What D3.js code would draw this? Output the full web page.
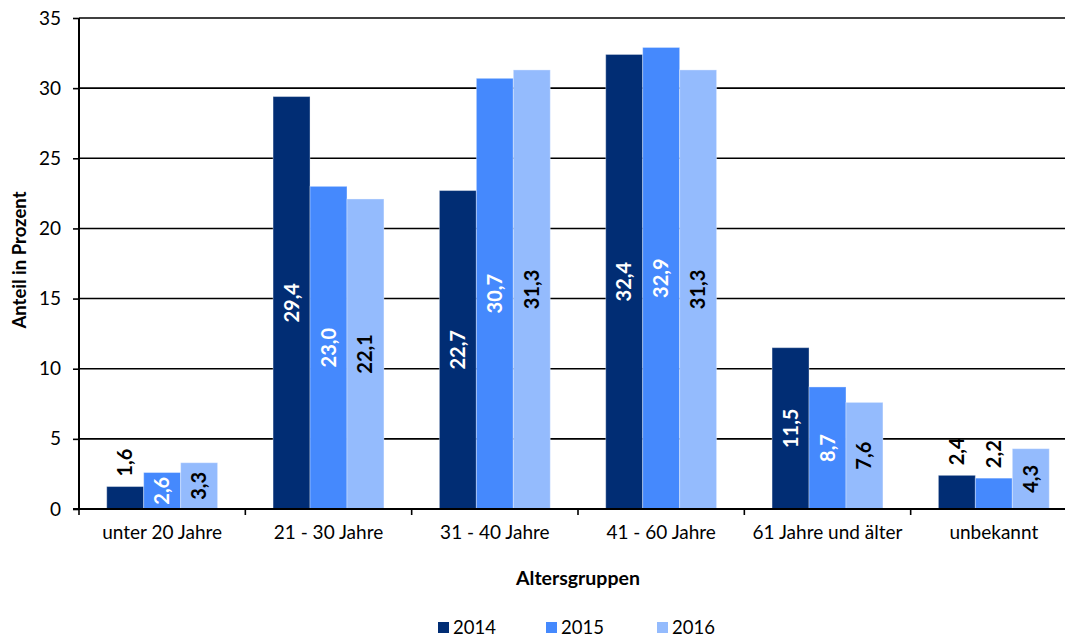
<!DOCTYPE html>
<html>
<head>
<meta charset="utf-8">
<script src="https://cdn.jsdelivr.net/npm/d3@7"></script>
<style>
  body { margin: 0; background: #fff; }
  svg { display: block; font-family: Lato, "Open Sans", sans-serif; }
</style>
</head>
<body>
<svg id="chart" width="1065" height="638"></svg>
<script>
// data
const categories = ["unter 20 Jahre", "21 - 30 Jahre", "31 - 40 Jahre", "41 - 60 Jahre", "61 Jahre und älter", "unbekannt"];
const years = ["2014", "2015", "2016"];
const values2014 = [1.6, 29.4, 22.7, 32.4, 11.5, 2.4];
const values2015 = [2.6, 23.0, 30.7, 32.9, 8.7, 2.2];
const values2016 = [3.3, 22.1, 31.3, 31.3, 7.6, 4.3];
const yTicks = [0, 5, 10, 15, 20, 25, 30, 35];

const seriesValues = [values2014, values2015, values2016];
const colors = ["#012d74", "#4589fd", "#94bbfd"];
const labelColors = ["#fff", "#fff", "#000"];

const svg = d3.select("#chart");
const plotLeft = 79, plotRight = 1077, plotTop = 18, plotBottom = 509;

const x0 = d3.scaleBand().domain(categories).range([plotLeft, plotRight]).padding(0);
const step = x0.step();
const x1 = d3.scaleBand().domain(years).range([step * 0.1667, step * 0.8333]).padding(0);
const y = d3.scaleLinear().domain([0, 35]).range([plotBottom, plotTop]);

// gridlines
svg.append("g")
  .selectAll("line")
  .data(yTicks.filter(d => d > 0))
  .join("line")
    .attr("x1", plotLeft).attr("x2", plotRight)
    .attr("y1", d => y(d)).attr("y2", d => y(d))
    .attr("stroke", "#000").attr("stroke-width", 1.6);

// y axis
const yAxis = svg.append("g")
  .attr("transform", `translate(${plotLeft},0)`)
  .call(d3.axisLeft(y).tickValues(yTicks).tickSize(6).tickPadding(12).tickFormat(d3.format("d")));
yAxis.select(".domain").attr("stroke", "#000").attr("stroke-width", 2).attr("d", `M0,${plotTop}V${plotBottom}`);
yAxis.selectAll(".tick line").attr("stroke", "#000").attr("stroke-width", 1.6);
yAxis.selectAll(".tick text").attr("font-size", 19).attr("fill", "#000").attr("font-family", "Lato, sans-serif");

// bars
const rows = categories.map((c, i) => ({ cat: c, vals: years.map((yr, j) => ({ yr, j, v: seriesValues[j][i] })) }));

const groups = svg.append("g")
  .selectAll("g")
  .data(rows)
  .join("g")
    .attr("transform", d => `translate(${x0(d.cat)},0)`);

groups.selectAll("rect")
  .data(d => d.vals)
  .join("rect")
    .attr("x", d => x1(d.yr))
    .attr("y", d => y(d.v))
    .attr("width", x1.bandwidth())
    .attr("height", d => y(0) - y(d.v))
    .attr("fill", d => colors[d.j])
    .attr("stroke", "rgba(255,255,255,0.35)")
    .attr("stroke-width", 1);

// value labels, rotated
groups.selectAll("text")
  .data(d => d.vals)
  .join("text")
    .attr("transform", d => {
      const cx = x1(d.yr) + x1.bandwidth() / 2;
      const cy = d.v < 2.5 ? y(d.v) - 10 : (y(d.v) + y(0)) / 2;
      return `translate(${cx},${cy}) rotate(-90)`;
    })
    .attr("text-anchor", d => d.v < 2.5 ? "start" : "middle")
    .attr("dy", "0.35em")
    .attr("font-size", 20)
    .attr("font-weight", "bold")
    .attr("fill", d => d.v < 2.5 ? "#000" : labelColors[d.j])
    .text(d => d3.format(".1f")(d.v).replace(".", ","));

// x axis
const xAxis = svg.append("g")
  .attr("transform", `translate(0,${plotBottom})`)
  .call(d3.axisBottom(x0).tickSize(0).tickPadding(17));
xAxis.select(".domain").attr("stroke", "#000").attr("stroke-width", 2).attr("d", `M${plotLeft - 6},0H${plotRight}`);
xAxis.selectAll(".tick text").attr("font-size", 19).attr("fill", "#000").attr("font-family", "Lato, sans-serif");
svg.append("g")
  .selectAll("line")
  .data(d3.range(categories.length + 1))
  .join("line")
    .attr("x1", i => plotLeft + i * step).attr("x2", i => plotLeft + i * step)
    .attr("y1", plotBottom).attr("y2", plotBottom + 6)
    .attr("stroke", "#000").attr("stroke-width", 1.6);

// axis titles
svg.append("text")
  .attr("x", 578).attr("y", 585)
  .attr("text-anchor", "middle")
  .attr("font-size", 19.5).attr("font-weight", "bold")
  .text("Altersgruppen");

svg.append("text")
  .attr("transform", "translate(26,260) rotate(-90)")
  .attr("text-anchor", "middle")
  .attr("font-size", 18.5).attr("font-weight", "bold")
  .text("Anteil in Prozent");

// legend
const legendX = [438, 546, 657];
const legend = svg.append("g")
  .selectAll("g")
  .data(years)
  .join("g")
    .attr("transform", (d, i) => `translate(${legendX[i]},622)`);
legend.append("rect")
  .attr("width", 11).attr("height", 11)
  .attr("fill", (d, i) => colors[i]);
legend.append("text")
  .attr("x", 15).attr("y", 6).attr("dy", "0.35em")
  .attr("font-size", 18.5)
  .text(d => d);
</script>
</body>
</html>
